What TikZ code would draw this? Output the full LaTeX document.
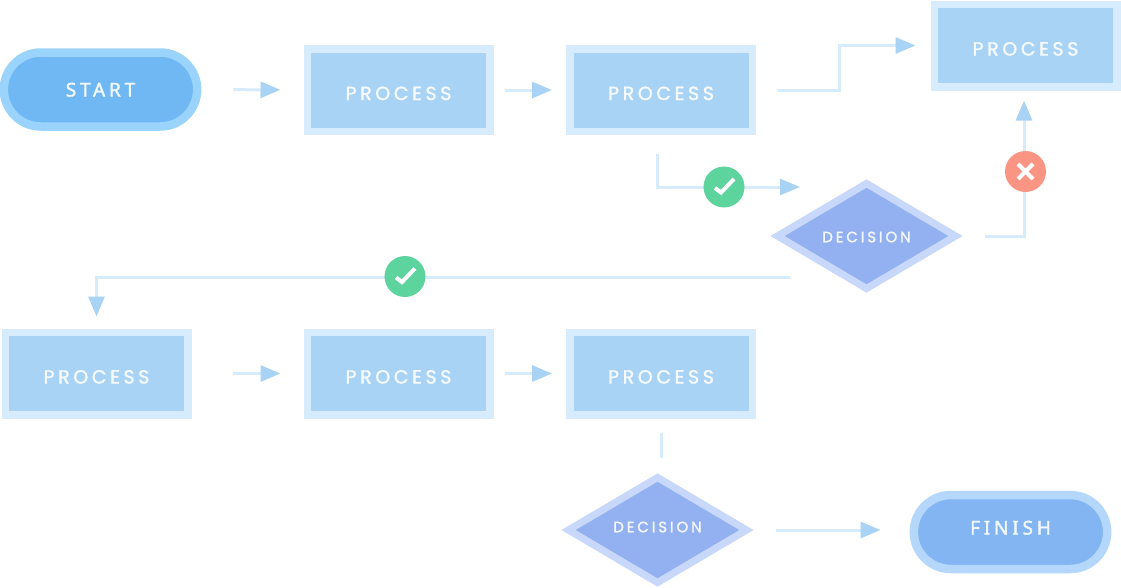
\documentclass[tikz,border=0pt]{standalone}
\usepackage{fontspec}
\usetikzlibrary{arrows.meta,shapes.geometric,shapes.misc}
\newfontfamily\boxfont[LetterSpace=19,FakeBold=1.6]{Poppins}
\newfontfamily\endfont[LetterSpace=20,FakeBold=1.8]{Noto Sans}
\definecolor{procfill}{HTML}{A9D3F4}
\definecolor{procedge}{HTML}{D6EBFB}
\definecolor{decfill}{HTML}{93B1F1}
\definecolor{decedge}{HTML}{C8D8FA}
\definecolor{startfill}{HTML}{70B8F3}
\definecolor{startedge}{HTML}{9AD3FB}
\definecolor{finfill}{HTML}{82B5F2}
\definecolor{finedge}{HTML}{B5D7FB}
\definecolor{okgreen}{HTML}{5DD39E}
\definecolor{nored}{HTML}{FA9483}
\tikzset{
  procbox/.style={rectangle,draw=procedge,fill=procfill,line width=7.5pt,minimum width=182.5pt,minimum height=82.5pt,
    text height=20pt,text depth=0pt,text=white!88!procfill,font=\boxfont\fontsize{19}{21}\selectfont},
  decbox/.style={diamond,draw=decedge,fill=decfill,line width=7.15pt,minimum width=181pt,minimum height=108pt,
    inner sep=0pt,text=white!88!decfill,font=\boxfont\fontsize{15}{17}\selectfont},
  endbox/.style={rounded rectangle,line width=8.5pt,minimum width=200pt,minimum height=74pt,
    text=white!90!startfill,font=\endfont\fontsize{19}{21}\selectfont},
  flow/.style={draw=procedge,line width=3pt},
  flowtip/.style={flow,-{Triangle[length=20pt,width=16pt,color=procfill]}},
  badge/.style={circle,minimum size=41pt,inner sep=0pt},
  markline/.style={white,line width=4pt}
}
\begin{document}
\begin{tikzpicture}[x=1pt,y=-1pt]
  \useasboundingbox (0,0) rectangle (1121,587);
  % first row
  \node[endbox,draw=startedge,fill=startfill,text height=14pt,text depth=0pt] (start) at (100.5,89.5) {START};
  \node[procbox] (procA) at (398.5,90) {PROCESS};
  \node[procbox] (procB) at (661,90) {PROCESS};
  \node[procbox] (procC) at (1025.5,45.5) {PROCESS};
  \node[decbox,text height=12.5pt,text depth=0pt] (decA) at (866.5,236) {DECISION};
  % second row
  \node[procbox] (procD) at (96.5,373.5) {PROCESS};
  \node[procbox] (procE) at (398.5,373.5) {PROCESS};
  \node[procbox] (procF) at (661,373.5) {PROCESS};
  \node[decbox,text height=10.5pt,text depth=6pt] (decB) at (657.5,530) {DECISION};
  \node[endbox,draw=finedge,fill=finfill,text height=13pt,text depth=8pt] (finish) at (1010.5,532) {FINISH};
  \coordinate (bendC) at (839,45.5);
  \coordinate (decAin) at (800,187);
  \coordinate (decAout) at (790,277);
  % connectors
  \draw[flowtip,shorten <=32pt,shorten >=23pt] (start) -- (procA);
  \draw[flowtip,shorten <=11pt,shorten >=14pt] (procA) -- (procB);
  \draw[flowtip,shorten <=22pt,shorten >=15pt] (procB.east) -| (bendC) -- (procC.west);
  \draw[flowtip,shorten <=19pt] ([xshift=-4pt]procB.south) |- (decAin);
  \draw[flowtip,shorten <=24pt,shorten >=10pt] (decA.east) -| ([xshift=-1.5pt]procC.south);
  \draw[flowtip,shorten >=12pt] (decAout) -| (procD.north);
  \draw[flowtip,shorten <=41pt,shorten >=23pt] (procD) -- (procE);
  \draw[flowtip,shorten <=11pt,shorten >=14pt] (procE) -- (procF);
  \draw[flow,shorten <=14pt,shorten >=14pt] (procF.south) -- (procF.south |- decB.north);
  \draw[flowtip,shorten <=24pt,shorten >=29pt] (decB.east) -- (decB.east -| finish.west);
  % badges
  \node[badge,fill=okgreen] (okA) at (724,187) {};
  \node[badge,fill=okgreen] (okB) at (405,276.5) {};
  \node[badge,fill=nored] (noA) at (1025.5,171.5) {};
  \foreach \n in {okA,okB}
    \draw[markline] ([shift={(-9,1)}]\n.center) -- ([shift={(-3,5.5)}]\n.center) -- ([shift={(10,-8)}]\n.center);
  \draw[markline] ([shift={(-7.5,-7.5)}]noA.center) -- ([shift={(7.5,7.5)}]noA.center);
  \draw[markline] ([shift={(-7.5,7.5)}]noA.center) -- ([shift={(7.5,-7.5)}]noA.center);
\end{tikzpicture}
\end{document}
